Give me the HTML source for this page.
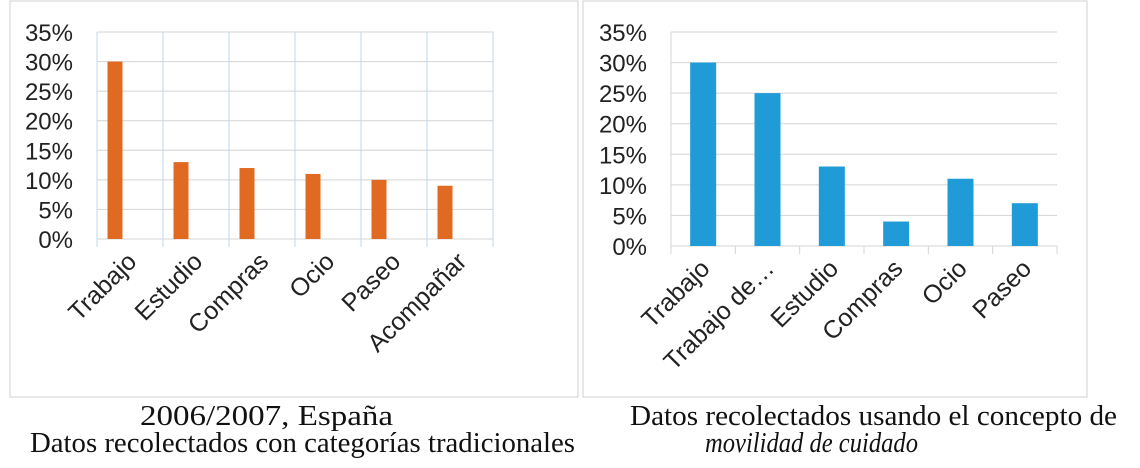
<!DOCTYPE html>
<html><head><meta charset="utf-8"><style>
body{margin:0;background:#fff}
svg{display:block}
</style></head><body>
<svg id="c" width="1140" height="468" xmlns="http://www.w3.org/2000/svg" font-family="Liberation Sans, sans-serif">
<rect x="10" y="1" width="568" height="396" fill="#fff" stroke="#d0d0d0"/>
<rect x="583" y="1" width="504" height="396" fill="#fff" stroke="#d0d0d0"/>
<g id="left"></g>
<g id="right"></g>
<g font-family="Liberation Serif, serif" font-size="28" fill="#111">
<text x="140" y="425" textLength="253" lengthAdjust="spacingAndGlyphs">2006/2007, España</text>
<text x="30" y="452" textLength="545" lengthAdjust="spacingAndGlyphs">Datos recolectados con categorías tradicionales</text>
<text x="630" y="425" textLength="487" lengthAdjust="spacingAndGlyphs">Datos recolectados usando el concepto de</text>
<text x="705" y="452" textLength="213" lengthAdjust="spacingAndGlyphs" font-style="italic">movilidad de cuidado</text>
</g>
</svg>
<script>
const leftCategories = ["Trabajo","Estudio","Compras","Ocio","Paseo","Acompañar"];
const leftValues = [30,13,12,11,10,9];
const rightCategories = ["Trabajo","Trabajo de…","Estudio","Compras","Ocio","Paseo"];
const rightValues = [30,25,13,4,11,7];
const yTicks = [0,5,10,15,20,25,30,35];
const yTickLabels = ["0%","5%","10%","15%","20%","25%","30%","35%"];

const NS="http://www.w3.org/2000/svg";
function mk(parent,tag,attrs){const e=document.createElementNS(NS,tag);for(const k in attrs)e.setAttribute(k,attrs[k]);parent.appendChild(e);return e;}

function draw(g,cfg,cats,vals){
  const y=v=>cfg.y0-(v/35)*(cfg.y0-cfg.y1);
  const cw=(cfg.x1-cfg.x0)/cats.length;
  const x=i=>cfg.x0+cw*i;
  yTicks.forEach((t,i)=>{
    const l=mk(g,'line',{x1:cfg.x0,x2:cfg.x1,y1:y(t),y2:y(t),stroke:'#d4d4d4','stroke-width':1});
    
    
    const tx=mk(g,'text',{x:cfg.x0-24,y:y(t)+9,'text-anchor':'end','font-size':24,fill:'#222'});
    tx.textContent=yTickLabels[i];
    
    
  });
  for(let i=0;i<=cats.length;i++){
    const l=mk(g,'line',{x1:x(i),x2:x(i),y1:cfg.vgrid?cfg.y1:cfg.y0,y2:cfg.y0+8,stroke:cfg.vgrid?'#bcd8ee':'#d4d4d4','stroke-width':1});
    
    
  }
  if(!cfg.vgrid){const a=mk(g,'line',{x1:cfg.x0,x2:cfg.x0,y1:cfg.y1,y2:cfg.y0+8,stroke:'#d4d4d4'});
    
    }
  cats.forEach((c,i)=>{
    const cx=x(i)+cw/2+cfg.off;
    const b=mk(g,'rect',{x:cx-cfg.bw/2,y:y(vals[i]),width:cfg.bw,height:y(0)-y(vals[i]),fill:cfg.color});
    
    
    const lx=x(i)+cw/2+8, ly=cfg.y0+24;
    const t=mk(g,'text',{x:lx,y:ly,'text-anchor':'end','font-size':25,fill:'#222',transform:`rotate(-45 ${lx} ${ly})`});
    t.textContent=c;
    
    
  });
}
draw(document.getElementById('left'),{x0:97,x1:493,y0:239,y1:32,bw:15,off:-15,color:'#e06a21',vgrid:true},leftCategories,leftValues);
draw(document.getElementById('right'),{x0:671,x1:1057,y0:246,y1:32,bw:26,off:0,color:'#1f9bd8',vgrid:false},rightCategories,rightValues);
</script>
</body></html>
